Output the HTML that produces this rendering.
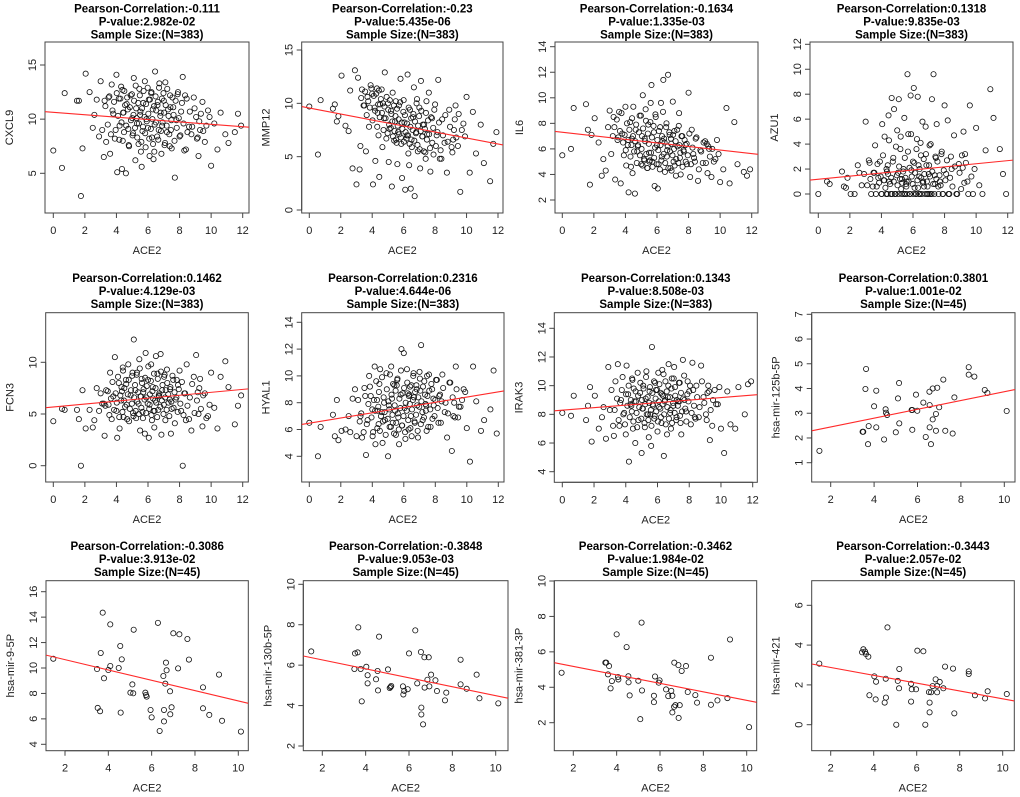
<!DOCTYPE html>
<html><head><meta charset="utf-8"><title>ACE2 correlations</title>
<style>
html,body{margin:0;padding:0;background:#fff;}
svg{display:block;font-family:"Liberation Sans",Arial,sans-serif;}
</style></head>
<body>
<svg id="chart" width="1020" height="797" viewBox="0 0 1020 797" xmlns="http://www.w3.org/2000/svg"></svg>
<script>
// ---------- DATA ----------
const titles = ["Pearson-Correlation:-0.111","Pearson-Correlation:-0.23","Pearson-Correlation:-0.1634","Pearson-Correlation:0.1318",
 "Pearson-Correlation:0.1462","Pearson-Correlation:0.2316","Pearson-Correlation:0.1343","Pearson-Correlation:0.3801",
 "Pearson-Correlation:-0.3086","Pearson-Correlation:-0.3848","Pearson-Correlation:-0.3462","Pearson-Correlation:-0.3443"];
const pvalues = ["P-value:2.982e-02","P-value:5.435e-06","P-value:1.335e-03","P-value:9.835e-03",
 "P-value:4.129e-03","P-value:4.644e-06","P-value:8.508e-03","P-value:1.001e-02",
 "P-value:3.913e-02","P-value:9.053e-03","P-value:1.984e-02","P-value:2.057e-02"];
const sampleSizes = ["Sample Size:(N=383)","Sample Size:(N=383)","Sample Size:(N=383)","Sample Size:(N=383)",
 "Sample Size:(N=383)","Sample Size:(N=383)","Sample Size:(N=383)","Sample Size:(N=45)",
 "Sample Size:(N=45)","Sample Size:(N=45)","Sample Size:(N=45)","Sample Size:(N=45)"];
const yLabels = ["CXCL9","MMP12","IL6","AZU1","FCN3","HYAL1","IRAK3","hsa-mir-125b-5P","hsa-mir-9-5P","hsa-mir-130b-5P","hsa-mir-381-3P","hsa-mir-421"];
const intercepts = [10.63,9.56,7.30,1.18,5.68,6.47,8.29,2.09,11.47,6.70,5.66,3.27];
const slopes = [-0.111,-0.281,-0.139,0.1245,0.1416,0.195,0.088,0.178,-0.406,-0.221,-0.24,-0.197];
const xTicksA = [0,2,4,6,8,10,12];
const xTicksB = [2,4,6,8,10];
const yTicks = [[5,10,15],[0,5,10,15],[2,4,6,8,10,12,14],[0,2,4,6,8,10,12],[0,5,10],[4,6,8,10,12,14],[4,6,8,10,12,14],[1,2,3,4,5,6,7],[4,6,8,10,12,14,16],[2,4,6,8,10],[2,4,6,8,10],[0,2,4,6]];

const ace2X = [0.0,0.55,0.72,1.5,1.62,1.75,1.85,2.05,2.3,2.5,2.6,2.75,2.9,3.0,3.1,3.25,3.35,3.5,3.6,3.7,3.8,3.9,4.0,4.05,4.15,4.2,4.3,4.4,4.45,4.5,4.6,4.65,4.75,4.8,4.9,5.0,5.05,5.1,5.2,5.25,5.3,5.4,5.45,5.5,5.6,5.65,5.7,5.8,5.85,5.9,6.0,6.05,6.1,6.2,6.25,6.3,6.4,6.45,6.5,6.6,6.65,6.7,6.8,6.85,6.9,7.0,7.05,7.1,7.2,7.3,7.4,7.45,7.5,7.6,7.7,7.8,7.9,8.0,8.1,8.2,8.3,8.45,8.6,8.75,8.9,9.05,9.2,9.3,9.45,9.6,9.8,10.0,10.2,10.4,10.6,10.9,11.1,11.5,11.7,11.9];
const cxcl9Y = [7.1,5.5,12.4,11.7,11.7,2.9,7.3,14.2,12.5,9.2,10.4,11.8,8.4,13.5,9.0,11.7,7.9,12.0,6.8,13.2,10.5,8.2,14.1,5.1,11.9,9.4,13.0,8.0,10.6,12.6,5.0,11.4,9.1,7.5,12.2,10.1,8.7,13.8,6.2,11.0,9.6,7.7,12.8,10.4,5.6,8.9,11.5,13.5,7.4,10.0,9.2,11.8,6.6,12.4,8.3,10.9,7.0,14.4,9.7,11.3,8.1,12.9,10.6,6.8,9.4,11.7,7.6,13.4,8.8,10.3,12.2,9.0,7.3,11.1,4.6,9.9,12.5,8.4,10.7,13.9,7.1,11.9,9.3,8.6,12.0,10.2,6.6,9.0,11.6,7.9,10.8,5.7,9.6,7.2,10.6,8.6,7.8,8.8,10.5,9.4];
const mmp12Y = [9.7,5.2,10.3,9.5,9.9,8.3,8.8,12.6,7.9,7.4,11.2,3.9,13.1,2.4,12.4,6.0,11.3,9.8,5.5,10.6,7.8,11.7,10.9,2.4,9.6,4.6,11.4,7.0,3.1,9.9,11.3,5.9,8.6,12.9,6.7,10.0,4.5,7.6,9.3,2.2,11.0,6.5,8.3,10.2,4.3,7.3,9.8,12.3,6.2,3.0,10.3,8.2,1.9,7.0,12.7,5.3,9.4,2.0,6.6,8.7,11.5,1.3,7.3,10.4,5.5,9.6,3.9,12.1,6.9,8.0,4.8,10.2,7.1,11.0,3.6,8.6,5.2,9.9,7.0,12.2,4.8,8.5,6.3,3.5,9.4,5.9,7.5,9.8,6.0,1.7,8.1,10.6,3.5,9.2,5.3,8.0,4.4,2.7,6.2,7.3];
const il6Y = [5.5,6.0,9.2,9.5,7.5,3.2,7.1,8.4,6.5,3.9,5.2,4.3,7.7,9.0,5.6,8.5,3.6,6.7,8.9,3.3,7.2,5.5,9.3,4.7,6.3,2.6,8.1,6.8,4.1,9.3,2.5,7.5,5.8,6.3,8.6,4.8,7.0,10.2,5.1,6.6,8.2,4.5,7.9,5.7,9.6,11.0,5.0,7.3,3.1,8.7,6.3,2.9,4.8,7.7,9.6,5.4,11.4,6.8,4.2,8.0,5.9,11.8,7.1,4.5,6.4,9.7,5.0,7.4,3.9,6.2,8.8,5.3,4.0,7.0,5.8,6.3,4.8,10.4,3.8,7.5,5.6,6.8,3.5,5.9,4.9,6.6,4.1,6.0,3.8,5.0,6.7,3.4,4.4,9.2,3.3,8.1,4.8,4.2,3.9,4.4];
const azu1Y = [0,1.0,0.8,1.8,0.6,0.5,1.3,0,0,2.3,1.7,0.7,1.6,5.8,0.7,2.5,0,1.7,3.9,0.6,1.3,2.6,0,5.6,1.1,4.6,0,2.3,6.3,1.0,0,7.7,2.9,6.8,0,5.1,1.7,7.6,3.6,0.4,1.2,2.0,6.1,0,1.0,9.6,4.8,0,7.9,1.9,2.6,8.5,0.5,0,4.4,7.8,1.4,0,3.1,5.8,1.0,0.6,5.4,2.3,0,1.6,3.9,0,7.6,9.6,0.8,2.9,5.6,0.6,1.0,3.2,0,7.1,1.6,5.9,0,2.0,4.7,0,2.4,0.4,5.0,3.2,1.0,7.1,0,5.3,0.7,0,3.5,8.4,6.1,3.6,1.6,0];
const fcn3Y = [4.3,5.5,5.4,5.4,4.5,0.0,7.3,3.6,5.4,3.7,4.4,7.5,5.3,7.0,6.0,2.9,7.3,5.9,9.0,4.5,6.7,10.5,5.3,2.7,8.0,3.6,6.3,9.5,4.7,7.5,8.3,5.9,9.8,4.3,6.8,8.7,5.1,12.2,7.3,4.6,9.0,6.0,10.3,3.4,8.4,5.2,7.1,3.1,10.9,6.6,8.3,2.7,5.9,9.8,4.4,7.6,3.7,6.3,10.6,8.9,5.4,6.7,10.8,3.0,7.3,5.9,8.8,4.4,9.3,6.1,7.4,3.1,5.5,8.3,4.1,6.6,7.8,9.2,5.3,0.0,7.0,9.8,4.5,3.4,8.6,10.7,5.0,8.4,3.8,7.0,4.8,9.0,5.6,3.6,8.6,10.1,7.6,4.0,5.8,6.8];
const hyal1Y = [6.5,4.0,6.2,7.1,5.5,8.2,5.2,5.9,6.0,7.0,5.8,8.3,9.0,5.5,8.2,7.0,5.4,9.1,4.1,6.7,10.0,8.5,7.5,5.8,10.7,4.9,8.2,6.4,9.4,10.5,7.3,5.0,8.0,6.7,10.2,4.0,7.8,6.2,10.7,8.3,6.5,9.3,7.4,5.6,9.8,6.9,4.9,8.6,12.0,6.3,11.7,7.6,5.3,10.5,8.7,6.0,9.2,7.0,5.5,10.0,8.4,6.5,9.3,7.8,5.4,10.3,8.9,12.3,6.7,9.6,7.4,5.9,8.5,10.1,6.2,9.0,7.8,8.2,9.7,6.5,8.6,10.1,7.3,5.4,9.5,4.4,8.0,10.7,6.9,7.7,9.0,6.1,3.6,10.7,8.1,5.9,6.7,7.5,10.4,5.7];
const irak3Y = [8.1,7.9,9.3,7.6,8.6,9.9,6.1,9.3,7.0,7.8,8.5,6.3,11.3,8.3,9.7,6.5,10.3,11.5,7.2,9.0,10.6,8.1,6.6,11.4,9.4,4.7,8.7,10.5,7.0,9.8,6.0,8.9,10.9,7.6,9.5,5.3,8.4,10.0,7.1,9.1,11.0,8.0,6.4,9.6,5.8,12.7,8.7,7.7,10.2,9.7,6.8,10.9,8.5,9.5,7.4,11.1,5.1,8.9,10.3,6.6,9.2,11.5,8.1,7.0,10.5,8.6,11.3,9.9,7.8,8.9,10.2,7.4,6.6,11.8,9.0,8.2,10.3,9.6,7.3,11.6,8.6,10.0,7.8,11.4,9.2,8.0,10.0,6.2,7.2,9.7,8.7,7.0,5.3,9.6,7.3,7.0,9.9,8.0,10.1,10.3];

// second batch of the 383-sample cohort (central bulk)
const ace2XB = [3.3,3.45,3.55,3.65,3.75,3.85,3.95,4.02,4.1,4.18,4.25,4.32,4.38,4.42,4.48,4.55,4.62,4.68,4.72,4.78,4.85,4.92,4.98,5.02,5.08,5.12,5.18,5.22,5.28,5.32,5.38,5.42,5.48,5.52,5.58,5.62,5.68,5.72,5.78,5.82,5.88,5.92,5.98,6.02,6.08,6.12,6.18,6.22,6.28,6.32,6.38,6.42,6.48,6.52,6.58,6.62,6.68,6.72,6.78,6.82,6.88,6.92,6.98,7.02,7.08,7.12,7.18,7.22,7.28,7.35,7.42,7.48,7.55,7.62,7.68,7.75,7.82,7.88,7.95,8.05,8.15,8.25,8.35,8.5,8.65,8.8,8.95,9.1,9.25,9.35,9.5,9.7,9.9,3.2,4.35,5.55,6.35,7.38,8.4,9.15];
const cxcl9YB = [11.2,9.5,12.1,8.6,10.8,11.6,9.0,12.4,10.3,8.1,11.9,9.7,12.7,10.6,8.8,11.3,9.4,12.0,10.9,7.6,11.1,9.9,12.3,8.5,10.4,11.7,9.2,13.1,10.1,8.3,11.5,9.6,12.2,10.7,7.9,11.0,9.3,12.6,10.2,8.7,11.4,9.8,12.9,10.5,8.2,11.8,9.1,12.5,10.0,7.7,11.2,9.5,12.1,10.8,8.4,11.6,9.0,13.3,10.3,8.9,11.9,9.7,12.4,10.6,7.8,11.3,9.4,12.8,10.9,8.6,11.1,9.9,12.0,10.4,8.0,11.7,9.2,12.3,10.1,8.5,11.5,9.6,12.2,8.8,10.7,9.3,11.0,8.2,9.8,10.5,8.9,9.4,10.2,6.5,5.4,7.0,6.3,7.5,7.2,8.3];
const mmp12YB = [10.5,9.8,11.1,8.9,10.2,9.6,11.4,8.4,10.7,9.3,10.9,7.8,9.9,11.2,8.7,10.4,9.1,10.0,7.5,9.7,8.6,10.6,7.2,9.4,8.0,10.3,7.7,9.0,8.3,6.9,9.8,7.4,8.8,6.6,9.5,7.9,8.5,7.1,10.1,6.8,8.2,7.6,9.2,6.4,8.9,7.3,6.7,8.1,7.0,9.6,6.2,7.8,8.6,5.9,7.5,9.0,6.5,8.3,7.2,10.0,6.1,7.9,8.8,5.7,7.4,9.3,6.9,8.0,5.5,7.6,9.1,6.6,8.4,7.1,5.8,8.7,6.3,7.7,9.4,6.0,7.3,8.2,5.6,7.0,8.9,6.4,7.8,5.4,8.5,6.8,9.0,7.5,6.9,3.8,9.1,6.3,4.2,5.4,4.8,6.6];
const il6YB = [7.7,8.3,6.9,7.4,8.8,6.5,7.1,5.9,8.0,6.7,7.5,5.4,6.3,8.4,7.0,5.8,6.6,7.9,4.9,6.2,7.3,5.5,8.6,6.0,4.7,7.6,5.2,6.8,9.1,5.6,4.5,7.2,6.4,5.0,8.1,5.7,6.9,4.6,7.8,5.3,6.1,8.5,4.8,6.7,5.9,7.4,4.4,6.3,5.1,7.0,8.9,5.6,6.5,4.9,7.7,5.4,6.2,4.5,7.3,5.8,6.8,4.3,5.5,7.1,6.0,4.7,6.6,5.2,7.5,4.9,6.3,5.7,7.0,4.6,5.9,6.7,5.0,6.4,5.5,7.2,4.8,6.1,5.3,6.9,4.4,5.8,6.5,4.9,6.2,5.4,6.0,5.2,5.6,7.0,4.6,5.1,6.6,7.8,5.0,6.4];
const azu1YB = [1.2,0.6,1.7,0,2.4,0.9,1.4,0,3.1,1.1,0.5,2.0,0,1.6,4.3,0.8,1.3,0,2.6,1.0,0,3.8,1.5,0.7,0,2.2,1.2,4.6,0,0.9,1.8,0,2.9,1.3,0.6,0,3.4,1.0,2.1,0,4.8,1.4,0.8,0,2.5,1.7,0,3.6,1.1,0.5,0,2.0,4.1,1.3,0,0.9,2.8,1.6,0,3.2,1.0,0.6,0,2.3,1.4,4.0,0,1.8,0.8,0,3.0,1.2,2.6,0,1.5,0.7,3.4,0,1.9,1.1,2.7,0,1.3,0.6,2.2,0,1.7,3.1,0.9,2.5,0,1.4,2.0,2.7,1.8,0.8,2.3,1.5,3.0,2.1];
const fcn3YB = [5.8,7.2,4.9,6.5,8.1,5.4,7.0,6.1,8.6,4.7,6.8,7.6,5.2,9.2,6.3,5.7,7.9,4.5,6.9,8.3,5.5,7.3,6.0,9.0,4.8,6.6,7.8,5.3,8.8,6.2,7.1,5.0,9.4,6.7,5.6,8.0,4.6,7.4,6.4,8.5,5.1,7.7,6.0,9.6,5.5,6.9,8.2,4.9,7.2,6.5,8.9,5.3,7.5,6.1,4.7,8.4,6.8,7.0,5.7,9.1,6.3,7.8,5.0,8.6,6.6,7.3,5.4,8.0,6.9,4.8,7.6,6.2,8.7,5.6,7.1,6.4,8.3,5.2,7.4,6.0,8.1,4.9,7.0,5.8,6.6,7.9,5.1,6.3,7.5,5.5,6.8,4.6,5.9,6.0,7.2,6.7,5.3,6.4,4.4,7.1];
const hyal1YB = [7.2,5.8,8.5,6.4,7.9,9.2,6.9,5.5,8.2,7.4,9.6,6.1,7.7,8.8,5.9,7.0,9.9,6.6,8.4,7.3,5.6,9.0,6.8,8.1,7.5,10.1,6.2,8.6,7.1,9.4,5.7,7.8,8.9,6.5,9.7,7.2,6.0,8.3,7.6,10.4,6.3,8.7,7.0,9.1,5.8,8.0,7.4,9.5,6.7,8.5,7.9,6.1,9.3,7.5,8.2,10.2,6.6,8.8,7.1,9.0,5.9,8.4,7.7,9.8,6.4,8.1,7.3,9.2,6.9,8.6,7.8,10.0,6.2,8.9,7.5,9.4,6.8,8.3,7.0,9.7,7.6,8.5,6.5,9.1,8.0,7.2,9.5,8.4,6.9,9.0,7.7,8.2,8.8,6.6,7.4,9.3,8.6,7.9,8.1,7.0];
const irak3YB = [8.3,9.1,7.6,8.8,9.7,8.0,7.3,9.4,8.6,10.0,7.8,9.0,8.2,10.4,7.5,8.9,9.6,8.1,7.1,9.3,8.5,10.2,7.7,9.0,8.4,9.8,7.4,8.7,10.6,8.0,9.2,7.6,8.8,9.9,8.3,7.2,9.5,8.6,10.3,7.9,9.1,8.2,9.7,7.5,8.9,10.1,8.4,7.8,9.4,8.7,10.8,8.0,9.0,7.3,9.6,8.5,10.0,7.7,9.2,8.3,9.8,7.4,8.8,10.5,8.1,9.3,7.6,9.0,8.6,10.2,7.9,9.5,8.2,9.1,10.7,8.4,7.5,9.4,8.9,10.0,8.1,9.7,7.8,9.2,8.5,10.3,8.8,7.6,9.6,8.3,9.0,8.7,9.9,7.2,8.6,8.0,9.3,8.9,7.7,9.5];

const mir125bX = [1.48,3.47,3.5,3.63,3.6,3.75,3.72,4.0,4.1,4.1,4.46,4.53,4.55,4.6,5.0,5.1,5.15,5.16,5.73,5.76,5.76,5.93,5.99,6.27,6.38,6.55,6.56,6.56,6.62,6.7,6.7,6.85,6.85,6.91,7.0,7.19,7.28,7.62,7.7,8.36,8.36,8.62,9.1,9.22,10.11];
const mir125bY = [1.48,2.25,2.25,4.79,3.98,2.48,1.75,3.28,3.91,2.43,1.94,3.16,3.02,2.93,2.23,3.6,4.22,2.59,3.13,3.13,2.33,3.75,3.1,3.43,2.04,3.87,3.33,2.43,1.75,2.75,4.0,2.97,2.29,4.03,3.24,4.36,2.29,2.18,3.64,4.86,4.56,4.48,3.94,3.82,3.09];
const mir9X = [1.46,3.74,4.09,3.65,3.48,4.0,4.09,3.8,3.51,3.62,4.55,4.62,4.48,4.57,5.17,5.11,5.02,5.15,5.71,5.74,5.77,5.95,6.0,6.29,6.37,6.54,6.63,6.66,6.69,6.57,6.57,6.85,6.86,6.92,7.0,7.28,7.22,7.65,7.72,8.37,8.37,8.66,9.11,9.25,10.12];
const mir9Y = [10.73,14.35,13.43,11.18,9.92,9.84,10.16,9.19,6.86,6.6,11.73,10.68,10.0,6.49,13.01,8.71,8.06,8.01,8.06,7.88,7.75,6.7,6.12,13.55,5.05,9.37,8.77,10.42,9.82,6.7,5.8,8.17,6.36,6.91,12.73,12.65,9.97,12.28,10.66,8.48,6.83,6.31,9.48,5.85,5.0];
const mir130bX = [1.49,3.66,3.51,3.63,3.48,3.77,3.82,4.03,4.09,4.09,4.48,4.55,4.57,4.62,5.03,5.11,5.18,5.15,5.72,5.78,5.74,5.94,6.0,6.29,6.38,6.55,6.57,6.57,6.65,6.71,6.91,6.72,6.85,6.94,7.02,7.22,7.29,7.66,7.72,8.38,8.38,8.66,9.12,9.25,10.12];
const mir130bY = [6.68,7.87,6.58,6.63,5.81,5.81,4.21,5.92,5.5,5.1,5.3,5.71,4.75,7.41,5.79,4.87,4.97,4.92,4.95,4.73,4.55,4.81,6.58,7.72,5.1,6.65,3.9,3.56,3.07,6.39,6.39,4.89,5.28,4.95,5.53,5.25,4.72,4.26,4.64,6.27,5.05,4.83,5.53,4.36,4.11];
const mir381X = [1.46,3.48,3.52,3.65,3.6,3.78,3.72,4.0,4.06,4.08,4.46,4.54,4.55,4.6,5.15,5.0,5.17,5.09,5.72,5.72,5.77,5.98,5.94,6.28,6.38,6.52,6.57,6.57,6.65,6.71,6.66,6.85,6.86,6.91,7.0,7.2,7.28,7.63,7.71,8.35,8.35,8.65,9.11,9.23,10.11];
const mir381Y = [4.82,5.39,5.39,5.2,4.73,4.35,3.94,6.99,4.58,4.44,6.27,4.62,4.28,3.54,7.65,4.37,3.82,2.2,3.52,3.16,4.61,4.39,4.26,3.88,3.5,3.8,3.52,2.58,2.9,2.99,5.39,5.25,2.27,2.99,4.92,5.2,3.73,3.56,3.13,5.67,3.01,3.26,3.39,6.7,1.75];
const mir421X = [1.47,3.46,3.52,3.6,3.64,3.75,3.8,4.03,4.11,4.09,4.56,4.57,4.51,4.64,5.05,5.12,5.18,5.19,5.74,5.77,5.74,5.97,6.03,6.31,6.4,6.57,6.6,6.6,6.67,6.74,6.88,6.95,6.95,7.07,7.24,7.32,7.69,7.75,8.42,8.42,8.71,9.18,9.3,10.19];
const mir421Y = [3.07,3.64,3.79,3.67,3.55,3.42,1.48,2.43,2.16,1.27,2.31,1.36,1.11,4.89,0.0,2.2,1.83,2.8,2.06,1.78,1.16,1.78,3.72,3.69,0.0,1.64,1.11,0.62,1.63,1.94,2.28,1.63,1.95,2.15,1.83,2.92,2.82,0.57,2.68,2.55,1.48,1.32,1.68,1.54];

const seriesX = [ace2X,ace2X,ace2X,ace2X,ace2X,ace2X,ace2X,mir125bX,mir9X,mir130bX,mir381X,mir421X];
const seriesY = [cxcl9Y,mmp12Y,il6Y,azu1Y,fcn3Y,hyal1Y,irak3Y,mir125bY,mir9Y,mir130bY,mir381Y,mir421Y];
const seriesXB = [ace2XB,ace2XB,ace2XB,ace2XB,ace2XB,ace2XB,ace2XB,null,null,null,null,null];
const seriesYB = [cxcl9YB,mmp12YB,il6YB,azu1YB,fcn3YB,hyal1YB,irak3YB,null,null,null,null,null];

// ---------- LAYOUT (pixel geometry, not data) ----------
const layout = [
 {box:[45,42,249,213], xa:[0,53.3,12,242.7], ya:[15,65,5,173.3], row:0},
 {box:[301.7,42,503,213], xa:[0,309.3,12,498], ya:[15,50,0,210], row:0},
 {box:[555,42,758,213], xa:[0,562.3,12,751.7], ya:[14,46.7,2,200], row:0},
 {box:[810,42,1013,213], xa:[0,818.3,12,1007.7], ya:[12,44.3,0,194], row:0},
 {box:[45.7,312.7,248.3,482], xa:[0,53.3,12,242.7], ya:[10,362.3,0,465.7], row:1},
 {box:[301.7,312.7,504,482], xa:[0,309.3,12,498.3], ya:[14,322.3,4,456.3], row:1},
 {box:[554.3,312.7,757.3,482.3], xa:[0,562.3,12,752.7], ya:[14,328.3,4,471.7], row:1},
 {box:[811.7,312.7,1015,482], xa:[2,830.7,10,1004.3], ya:[7,314.3,1,462.7], row:1},
 {box:[46,580.7,248.3,750.7], xa:[2,65,10,238.3], ya:[16,591.7,4,744.3], row:2},
 {box:[303.3,580.7,508,750.7], xa:[2,322.3,10,495.7], ya:[10,584.3,2,746], row:2},
 {box:[554.3,580.7,756.7,750.7], xa:[2,573.3,10,746.7], ya:[10,581,2,722.7], row:2},
 {box:[811.7,580.7,1014.3,750.7], xa:[2,830.7,10,1002.7], ya:[6,605.3,0,724.7], row:2}
];
const titleY = [[12.5,25.5,38.5],[282,295,308],[550,563,576]];

// ---------- DRAW ----------
const NS = "http://www.w3.org/2000/svg";
const svg = document.getElementById('chart');
function mk(tag, attrs, parent){
  const e = document.createElementNS(NS, tag);
  for (const k in attrs) e.setAttribute(k, attrs[k]);
  (parent||svg).appendChild(e);
  return e;
}
function scaleFn(a){ const k=(a[3]-a[1])/(a[2]-a[0]); return v => a[1] + (v-a[0])*k; }
function invFn(a){ const k=(a[2]-a[0])/(a[3]-a[1]); return p => a[0] + (p-a[1])*k; }
const defs = mk('defs',{});

layout.forEach((L, i) => {
  const g = mk('g',{});
  
  
  const sx = scaleFn(L.xa), sy = scaleFn(L.ya);
  const [bl, bt, br, bb] = L.box;
  const cx = (bl+br)/2;
  const ty = titleY[L.row];
  [titles[i], pvalues[i], sampleSizes[i]].forEach((t, j) => {
    const tx = mk('text',{x:cx, y:ty[j], 'text-anchor':'middle', 'font-size':'11.5', 'font-weight':'bold', fill:'#000'}, g);
    tx.textContent = t;
    
    
  });
  const cp = mk('clipPath',{id:'clip'+i}, defs);
  mk('rect',{x:bl, y:bt, width:br-bl, height:bb-bt}, cp);
  const box = mk('rect',{x:bl, y:bt, width:br-bl, height:bb-bt, fill:'none', stroke:'#444', 'stroke-width':'1'}, g);
  
  
  const xt = (i >= 7) ? xTicksB : xTicksA;
  const xAxis = mk('g',{}, g);
  
  
  mk('line',{x1:sx(xt[0]), x2:sx(xt[xt.length-1]), y1:bb, y2:bb, stroke:'#444','stroke-width':'1'}, xAxis);
  xt.forEach(v => {
    mk('line',{x1:sx(v), x2:sx(v), y1:bb, y2:bb+5, stroke:'#444','stroke-width':'1'}, xAxis);
    const t = mk('text',{x:sx(v), y:bb+21, 'text-anchor':'middle','font-size':'11', fill:'#222'}, xAxis);
    t.textContent = v;
    
    
  });
  const xl = mk('text',{x:cx, y:bb+41, 'text-anchor':'middle','font-size':'11', fill:'#222'}, g);
  xl.textContent = 'ACE2';
  
  
  const yt = yTicks[i];
  const yAxis = mk('g',{}, g);
  
  
  mk('line',{x1:bl, x2:bl, y1:sy(yt[0]), y2:sy(yt[yt.length-1]), stroke:'#444','stroke-width':'1'}, yAxis);
  yt.forEach(v => {
    mk('line',{x1:bl-5, x2:bl, y1:sy(v), y2:sy(v), stroke:'#444','stroke-width':'1'}, yAxis);
    const px = bl-9, py = sy(v);
    const t = mk('text',{x:px, y:py, 'text-anchor':'middle','font-size':'11', fill:'#222', transform:`rotate(-90 ${px} ${py})`}, yAxis);
    t.textContent = v;
    
    
  });
  const ylx = bl-32, yly = (bt+bb)/2;
  const yl = mk('text',{x:ylx, y:yly, 'text-anchor':'middle','font-size':'11', fill:'#222', transform:`rotate(-90 ${ylx} ${yly})`}, g);
  yl.textContent = yLabels[i];
  
  
  const pts = mk('g',{}, g);
  
  
  function drawSet(X, Y){
    if (!X || !Y) return;
    const n = Math.min(X.length, Y.length);
    for (let k = 0; k < n; k++) {
      const c = mk('circle',{cx:sx(X[k]), cy:sy(Y[k]), r:'2.6', fill:'none', stroke:'#111', 'stroke-width':'0.8'}, pts);
      
      
    }
  }
  drawSet(seriesX[i], seriesY[i]);
  drawSet(seriesXB[i], seriesYB[i]);
  const ix = invFn(L.xa);
  const xA = ix(bl), xB = ix(br);
  const rl = mk('line',{x1:bl, x2:br, y1:sy(intercepts[i]+slopes[i]*xA), y2:sy(intercepts[i]+slopes[i]*xB), stroke:'#ff2a2a','stroke-width':'1.1','clip-path':`url(#clip${i})`}, g);
  
  
});
</script>
</body></html>
